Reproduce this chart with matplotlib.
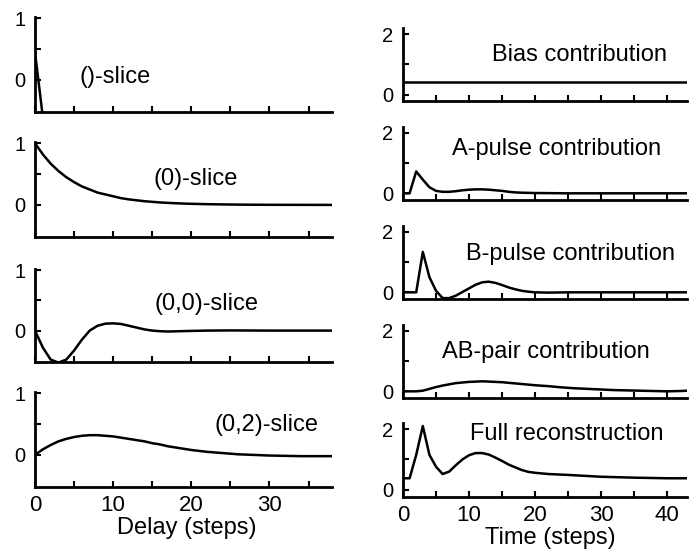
import matplotlib
matplotlib.use('Agg')
import matplotlib.pyplot as plt

plt.rcParams['font.family'] = ['Liberation Sans', 'DejaVu Sans']

W, H = 691, 554

# ---- left column: delay kernels (slices) ----
slice_labels = ['()-slice', '(0)-slice', '(0,0)-slice', '(0,2)-slice']

s_empty_x = [0, 1]
s_empty_y = [0.45, -0.6]

s_0_x = [0, 1, 2, 3, 4, 5, 6, 7, 8, 9, 10, 11, 12, 13, 14, 15, 16, 17, 18, 19, 20,
         22, 24, 26, 28, 30, 34, 38]
s_0_y = [1.0, 0.82, 0.67, 0.55, 0.45, 0.37, 0.30, 0.25, 0.20, 0.17, 0.14, 0.11, 0.09,
         0.075, 0.06, 0.05, 0.04, 0.033, 0.027, 0.022, 0.018, 0.012, 0.008, 0.005,
         0.003, 0.002, 0.001, 0.0]

s_00_x = [0, 1, 2, 3, 4, 5, 6, 7, 8, 9, 10, 11, 12, 13, 14, 15, 16, 17, 18, 20, 22,
          25, 30, 38]
s_00_y = [0.0, -0.28, -0.48, -0.53, -0.48, -0.33, -0.15, 0.0, 0.08, 0.115, 0.12, 0.11,
          0.08, 0.05, 0.02, 0.0, -0.01, -0.015, -0.012, -0.005, 0.0, 0.003, 0.0, 0.0]

s_02_x = [0, 1, 2, 3, 4, 5, 6, 7, 8, 9, 10, 11, 12, 13, 14, 15, 16, 17, 18, 19, 20,
          21, 22, 23, 24, 25, 26, 28, 30, 34, 38]
s_02_y = [0.0, 0.09, 0.16, 0.22, 0.26, 0.29, 0.31, 0.32, 0.32, 0.31, 0.30, 0.28, 0.26,
          0.24, 0.22, 0.19, 0.17, 0.14, 0.12, 0.10, 0.08, 0.065, 0.05, 0.04, 0.03, 0.02,
          0.01, 0.0, -0.01, -0.02, -0.02]

delay_ticks = [0, 5, 10, 15, 20, 25, 30, 35]
delay_ticklabels = ['0', '', '10', '', '20', '', '30', '']

# ---- right column: contributions over time ----
contrib_labels = ['Bias contribution', 'A-pulse contribution', 'B-pulse contribution',
                  'AB-pair contribution', 'Full reconstruction']

bias_x = [0, 43]
bias_y = [0.42, 0.42]

apulse_x = [0, 1, 2, 3, 4, 5, 6, 7, 8, 9, 10, 11, 12, 13, 14, 15, 16, 17, 18, 20, 25, 43]
apulse_y = [0.0, 0.0, 0.72, 0.45, 0.2, 0.08, 0.05, 0.05, 0.07, 0.1, 0.12, 0.13, 0.13,
            0.12, 0.1, 0.08, 0.05, 0.03, 0.02, 0.01, 0.0, 0.0]

bpulse_x = [0, 1, 2, 3, 4, 5, 6, 7, 8, 9, 10, 11, 12, 13, 14, 15, 16, 17, 18, 19, 20,
            22, 25, 43]
bpulse_y = [0.0, 0.0, 0.0, 1.33, 0.5, 0.05, -0.19, -0.19, -0.11, 0.01, 0.13, 0.25, 0.33,
            0.35, 0.31, 0.24, 0.16, 0.1, 0.05, 0.02, 0.0, -0.01, 0.0, 0.0]

abpair_x = [0, 1, 2, 3, 4, 5, 6, 7, 8, 9, 10, 11, 12, 13, 14, 15, 16, 17, 18, 19, 20,
            22, 24, 26, 28, 30, 32, 34, 36, 38, 40, 42, 43]
abpair_y = [0.0, 0.0, 0.0, 0.02, 0.08, 0.14, 0.19, 0.23, 0.27, 0.29, 0.31, 0.32, 0.33,
            0.32, 0.31, 0.30, 0.28, 0.26, 0.24, 0.22, 0.20, 0.17, 0.13, 0.10, 0.08, 0.06,
            0.04, 0.03, 0.02, 0.01, 0.0, 0.01, 0.02]

full_x = [0, 1, 2, 3, 4, 5, 6, 7, 8, 9, 10, 11, 12, 13, 14, 15, 16, 17, 18, 19, 20,
          22, 25, 30, 35, 40, 43]
full_y = [0.38, 0.38, 1.15, 2.1, 1.15, 0.76, 0.52, 0.6, 0.81, 1.0, 1.14, 1.21, 1.21,
          1.16, 1.06, 0.95, 0.83, 0.74, 0.65, 0.59, 0.56, 0.52, 0.49, 0.43, 0.40, 0.38,
          0.38]

time_ticks = [0, 5, 10, 15, 20, 25, 30, 35, 40]
time_ticklabels = ['0', '', '10', '', '20', '', '30', '', '40']

left_series = [(s_empty_x, s_empty_y), (s_0_x, s_0_y), (s_00_x, s_00_y), (s_02_x, s_02_y)]
right_series = [(bias_x, bias_y), (apulse_x, apulse_y), (bpulse_x, bpulse_y),
                (abpair_x, abpair_y), (full_x, full_y)]


def box(x0, x1, top, bottom):
    # pixel box (from top-left) -> figure fraction rect
    return [x0 / W, 1 - bottom / H, (x1 - x0) / W, (bottom - top) / H]


def style(ax):
    for s in ['top', 'right']:
        ax.spines[s].set_visible(False)
    for s in ['left', 'bottom']:
        ax.spines[s].set_linewidth(2.0)
    ax.tick_params(direction='in', length=4, width=1.5)
    ax.tick_params(axis='y', labelsize=14.5, pad=7)
    ax.tick_params(axis='x', labelsize=16, pad=6)


fig = plt.figure(figsize=(W / 100, H / 100), dpi=100)

left_boxes = [(17, 112), (142, 237), (269, 362), (392, 487)]
left_text = [(115, 77), (196, 179), (207, 304), (267, 425)]
for i, ((x, y), (t, b)) in enumerate(zip(left_series, left_boxes)):
    ax = fig.add_axes(box(35, 332, t, b))
    ax.plot(x, y, color='black', lw=1.8, solid_joinstyle='round')
    ax.set_xlim(0, 38)
    ax.set_ylim(-0.52, 1.02)
    ax.set_yticks([0, 0.5, 1])
    ax.set_yticklabels(['0', '', '1'])
    ax.set_xticks(delay_ticks)
    if i == 3:
        ax.set_xticklabels(delay_ticklabels)
    else:
        ax.set_xticklabels([])
    style(ax)
    fig.text(left_text[i][0] / W, 1 - left_text[i][1] / H, slice_labels[i],
             ha='center', va='center', fontsize=17)

right_boxes = [(28, 101.5), (126.5, 200), (225.5, 299), (324.5, 398), (423, 496.5)]
right_text = [(580, 55), (557, 149), (571, 254), (546, 352), (567, 434)]
for i, ((x, y), (t, b)) in enumerate(zip(right_series, right_boxes)):
    ax = fig.add_axes(box(403, 687, t, b))
    ax.plot(x, y, color='black', lw=1.8, solid_joinstyle='round')
    ax.set_xlim(0, 43)
    ax.set_ylim(-0.22, 2.2)
    ax.set_yticks([0, 1, 2])
    ax.set_yticklabels(['0', '', '2'])
    ax.set_xticks(time_ticks)
    if i == 4:
        ax.set_xticklabels(time_ticklabels)
    else:
        ax.set_xticklabels([])
    style(ax)
    fig.text(right_text[i][0] / W, 1 - right_text[i][1] / H, contrib_labels[i],
             ha='center', va='center', fontsize=17)

fig.text(187 / W, 1 - 528 / H, 'Delay (steps)', ha='center', va='center', fontsize=17)
fig.text(550 / W, 1 - 538 / H, 'Time (steps)', ha='center', va='center', fontsize=17)

fig.savefig('out.png', dpi=100)
